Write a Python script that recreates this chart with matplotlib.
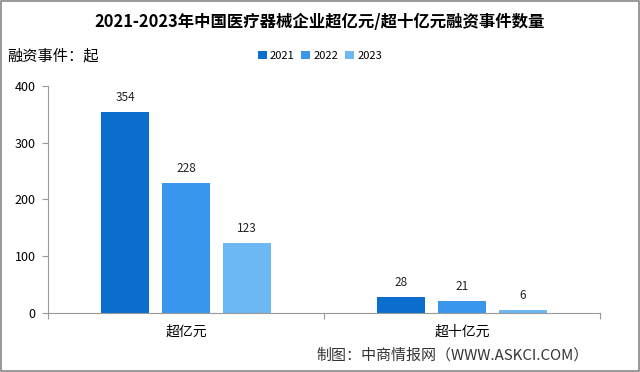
import matplotlib.pyplot as plt
import numpy as np
from matplotlib.patches import Rectangle

plt.rcParams['font.family'] = ['Noto Sans CJK SC', 'DejaVu Sans']

categories = ['超亿元', '超十亿元']
years = ['2021', '2022', '2023']
values = {
    '2021': [354, 28],
    '2022': [228, 21],
    '2023': [123, 6],
}
colors = ['#0B6DCC', '#3A96EC', '#6DB7F2']

fig = plt.figure(figsize=(6.4, 3.72), dpi=100)
ax = fig.add_axes([0.075, 0.1586, 0.8625, 0.611])

x = np.arange(len(categories))
width = 0.174
step = 0.221
for i, (yr, c) in enumerate(zip(years, colors)):
    bars = ax.bar(x + (i - 1) * step, values[yr], width, color=c, label=yr, zorder=2)
    for b, v in zip(bars, values[yr]):
        ax.text(b.get_x() + b.get_width() / 2, v + 14, str(v),
                ha='center', va='bottom', fontsize=8.5, color='#222222')

ax.set_xlim(-0.5, 1.5)
ax.set_ylim(0, 400)
ax.set_yticks([0, 100, 200, 300, 400])
ax.set_xticks([-0.5, 0.5, 1.5])
ax.set_xticklabels([])
ax.tick_params(axis='x', length=4, color='#999999', direction='out')
ax.tick_params(axis='y', length=4, color='#999999', labelsize=9, pad=5)
for c_i, cat in zip(x, categories):
    ax.text(c_i, -33, cat, ha='center', va='center', fontsize=10)

for s in ['top', 'right']:
    ax.spines[s].set_visible(False)
for s in ['left', 'bottom']:
    ax.spines[s].set_color('#999999')

fig.text(0.5, 0.94, '2021-2023年中国医疗器械企业超亿元/超十亿元融资事件数量',
         ha='center', va='center', fontsize=11.8, fontweight='bold')
fig.text(0.012, 0.85, '融资事件：起', ha='left', va='center', fontsize=11)
fig.legend(loc='center', bbox_to_anchor=(0.5, 0.85), ncol=3, frameon=False,
           fontsize=8, handlelength=0.8, handleheight=0.8, handletextpad=0.3,
           columnspacing=0.6)
fig.text(0.92, 0.045, '制图：中商情报网（WWW.ASKCI.COM）', ha='right', va='center',
         fontsize=10.8, color='#333333')

fig.patches.append(Rectangle((0.002, 0.003), 0.996, 0.994, transform=fig.transFigure,
                             fill=False, edgecolor='#888888', linewidth=1.2))

fig.savefig('out.png', dpi=100)
